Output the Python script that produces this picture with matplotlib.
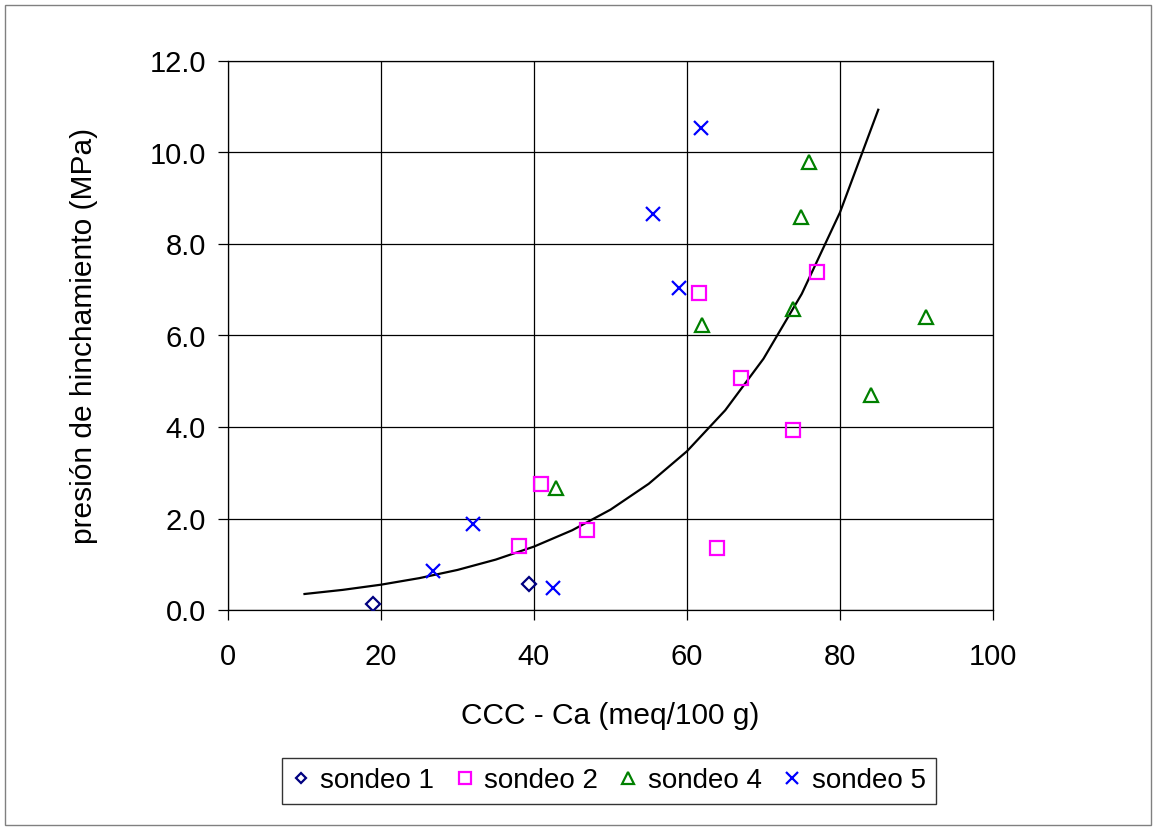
import numpy as np
import matplotlib
matplotlib.use("Agg")
import matplotlib.pyplot as plt
from matplotlib.patches import Rectangle

plt.rcParams['font.family'] = ['Liberation Sans', 'DejaVu Sans']

# Data
s1_x = [19.0, 39.3]
s1_y = [0.13, 0.56]
s2_x = [38.0, 40.9, 46.9, 61.6, 63.9, 67.1, 73.9, 77.0]
s2_y = [1.40, 2.75, 1.75, 6.93, 1.36, 5.07, 3.93, 7.39]
s4_x = [42.9, 61.9, 73.9, 74.9, 76.0, 84.1, 91.2]
s4_y = [2.66, 6.24, 6.59, 8.58, 9.80, 4.71, 6.41]
s5_x = [26.8, 32.0, 42.5, 55.6, 59.0, 61.8]
s5_y = [0.86, 1.88, 0.47, 8.66, 7.03, 10.53]

# Exponential trendline (y = a*exp(b*x))
trend_a = 0.221
trend_b = 0.0459
trend_x = np.arange(10, 86, 5)
trend_y = trend_a * np.exp(trend_b * trend_x)

x_ticks = [0, 20, 40, 60, 80, 100]
y_ticks = [0, 2, 4, 6, 8, 10, 12]

fig = plt.figure(figsize=(11.56, 8.30), dpi=100)
ax = fig.add_axes([228/1156, 1-610/830, (993-228)/1156, (610-61)/830])

ax.set_xlim(0, 100)
ax.set_ylim(0, 12)
ax.set_xticks(x_ticks)
ax.set_yticks(y_ticks)
ax.set_yticklabels([f"{v:.1f}" for v in y_ticks])
ax.grid(True, color='black', linewidth=0.9)
ax.set_axisbelow(True)
for s in ax.spines.values():
    s.set_color('black')
    s.set_linewidth(0.9)
ax.tick_params(axis='both', direction='out', length=7, width=0.9, labelsize=21, colors='black')
ax.tick_params(axis='y', pad=9)
ax.tick_params(axis='x', pad=17)

ax.plot(trend_x, trend_y, color='black', linewidth=1.6, zorder=2)

kw = dict(linestyle='none', fillstyle='none', markeredgewidth=1.6, zorder=3)
ax.plot(s1_x, s1_y, marker='D', markersize=7, color='#000080', label='sondeo 1', **kw)
ax.plot(s2_x, s2_y, marker='s', markersize=10, color='#FF00FF', label='sondeo 2', **kw)
ax.plot(s4_x, s4_y, marker='^', markersize=10, color='#008000', label='sondeo 4', **kw)
ax.plot(s5_x, s5_y, marker='x', markersize=10, color='#0000FF', label='sondeo 5', linestyle='none', markeredgewidth=1.6, zorder=3)

ax.set_xlabel('CCC - Ca (meq/100 g)', fontsize=21.5, labelpad=22)
ax.set_ylabel('presión de hinchamiento (MPa)', fontsize=21.5, labelpad=37)

leg = fig.legend(loc='center', bbox_to_anchor=(609/1156, 1-781/830), ncol=4, fontsize=20,
                 frameon=True, fancybox=False, edgecolor='black', handlelength=0.6,
                 handletextpad=0.4, columnspacing=0.8, borderpad=0.35, markerscale=0.8)
leg.get_frame().set_linewidth(1.0)

fig.add_artist(Rectangle((5/1156, 5/830), 1146/1156, 820/830, transform=fig.transFigure,
                         fill=False, edgecolor='#808080', linewidth=1.0))

fig.savefig('out.png', dpi=100)
